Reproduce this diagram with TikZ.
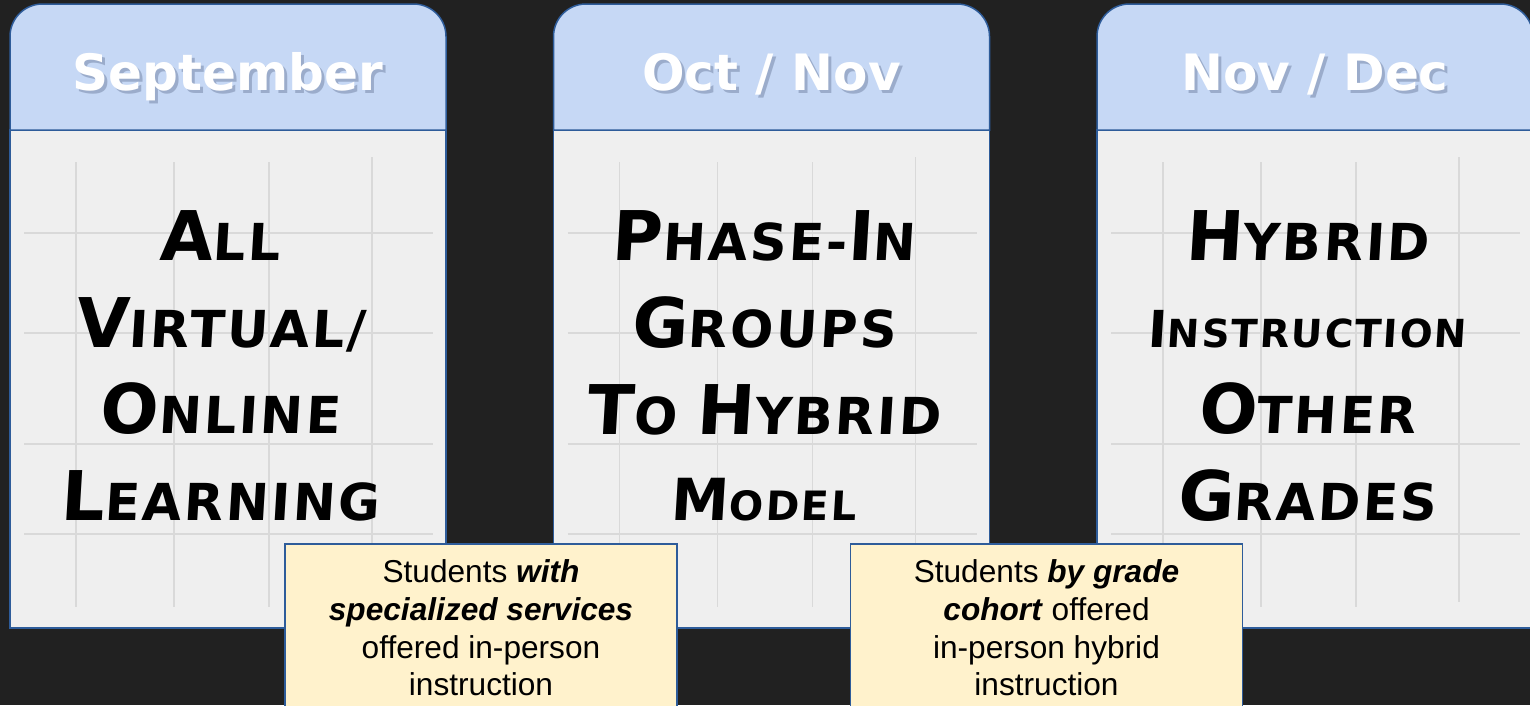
\documentclass[tikz,border=0pt]{standalone}
\usepackage{fontspec}
\setmainfont{Liberation Sans}
\newfontfamily\headfont{DejaVu Sans}
\newfontfamily\handfont[FakeSlant=0.06,LetterSpace=5]{DejaVu Sans}

\definecolor{boardbg}{HTML}{212121}
\definecolor{headblue}{HTML}{C6D8F5}
\definecolor{headshade}{HTML}{7F90B0}
\definecolor{bodygray}{HTML}{EFEFEF}
\definecolor{gridgray}{HTML}{D9D9D9}
\definecolor{cardline}{HTML}{2E5C9A}
\definecolor{notefill}{HTML}{FFF2CC}

% bigger first letter of a hand-lettered word
\newcommand{\Cap}[2][39]{{\fontsize{#1}{#1}\selectfont #2}}

\tikzset{
    cardhead/.style={fill=headblue,draw=cardline,line width=0.3mm},
    cardbody/.style={fill=bodygray,draw=cardline,line width=0.3mm},
    gridline/.style={draw=gridgray,line width=0.35mm},
    headtext/.style={anchor=base,text=white,font=\headfont\bfseries\fontsize{28.5}{30}\selectfont},
    headshadow/.style={anchor=base,text=headshade,opacity=0.6,font=\headfont\bfseries\fontsize{28.5}{30}\selectfont},
    plantext/.style={align=center,text=black,font=\handfont\bfseries\fontsize{29}{49.3}\selectfont},
    notebox/.style={fill=notefill,draw=cardline,line width=0.3mm,align=center,
        minimum width=78.4mm,minimum height=33.6mm,inner sep=0pt,
        font=\fontsize{18}{21.5}\selectfont}
}

\begin{document}
\begin{tikzpicture}[x=0.2mm,y=-0.2mm]
    \useasboundingbox (0,0) rectangle (1530,705);
    \fill[boardbg] (0,0) rectangle (1530,705);
    \clip (0,0) rectangle (1530,705);

    \foreach \i/\month/\plan in {
        1/September/{\Cap{A}LL\\\Cap{V}IRTUAL/\\\Cap{O}NLINE\\\Cap{L}EARNING},
        2/{Oct / Nov}/{\Cap{P}HASE-\Cap{I}N\\\Cap{G}ROUPS\\\Cap{T}O \Cap{H}YBRID\\{\fontsize{23}{23}\selectfont\Cap[33]{M}ODEL}},
        3/{Nov / Dec}/{\Cap{H}YBRID\\{\fontsize{22}{22}\selectfont\Cap[29]{I}NSTRUCTION}\\\Cap{O}THER\\\Cap{G}RADES}} {
    \begin{scope}[xshift=(\i-1)*10.87cm]
        \draw[cardbody] (10,130) rectangle (446,628);
        \foreach \gx in {76,174,269}
            \draw[gridline] (\gx,162) -- (\gx,607);
        \draw[gridline] (372,157) -- (372,602);
        \foreach \gy in {233,333,444,534}
            \draw[gridline] (24,\gy) -- (433,\gy);
        \draw[cardhead] (10,130) [rounded corners=6.5mm] -- (10,4) -- (446,4)
            [sharp corners] -- (446,130) -- cycle;
        \node[headshadow] (shade\i) at (231,93) {\month};
        \node[headtext] (head\i) at (228,90) {\month};
        \node[plantext] (plan\i) at (220,366) {\plan};
    \end{scope}
    }

    % notes under the first two cards
    \node[notebox] (note1) at (481,628) {Students \textbf{\textit{with}}\\
        \textbf{\textit{specialized services}}\\offered in-person\\instruction};
    \node[notebox] (note2) at (1046.5,628) {Students \textbf{\textit{by grade}}\\
        \textbf{\textit{cohort}} offered\\in-person hybrid\\instruction};
\end{tikzpicture}
\end{document}
